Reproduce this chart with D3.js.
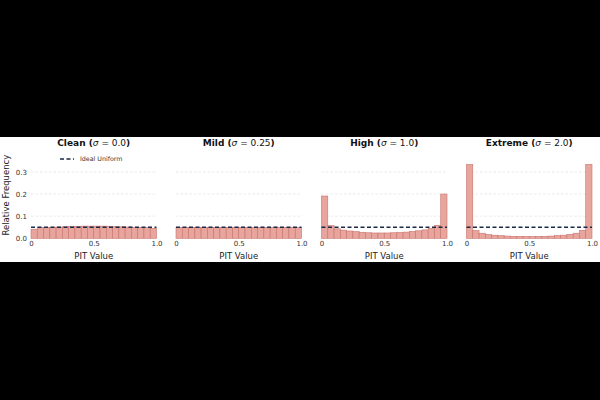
<!DOCTYPE html>
<html>
<head>
<meta charset="utf-8">
<script src="https://cdn.jsdelivr.net/npm/d3@7"></script>
<style>
  body { margin: 0; background: #000; }
  svg { display: block; font-family: "DejaVu Sans", sans-serif; }
  .grid line { stroke: #dcdcdc; stroke-dasharray: 2.5,2; stroke-width: 0.6; }
  .tick text { fill: #333; }
</style>
</head>
<body>
<svg id="chart" width="600" height="400"></svg>
<script>
// panel titles
const panelNames = ["Clean", "Mild", "High", "Extreme"];
const sigmas = ["0.0", "0.25", "1.0", "2.0"];

// PIT histograms, 20 bins each (relative frequency)
const cleanFreq = [0.041, 0.048, 0.049, 0.050, 0.051, 0.052, 0.053, 0.054, 0.055, 0.055,
                   0.055, 0.055, 0.054, 0.053, 0.052, 0.051, 0.050, 0.049, 0.048, 0.045];
const mildFreq = [0.049, 0.049, 0.050, 0.050, 0.049, 0.050, 0.050, 0.049, 0.050, 0.050,
                  0.050, 0.049, 0.050, 0.050, 0.049, 0.050, 0.050, 0.049, 0.050, 0.049];
const highFreq = [0.191, 0.057, 0.043, 0.037, 0.033, 0.030, 0.027, 0.025, 0.024, 0.024,
                  0.024, 0.025, 0.026, 0.028, 0.031, 0.034, 0.038, 0.044, 0.058, 0.200];
const extremeFreq = [0.333, 0.035, 0.023, 0.017, 0.014, 0.012, 0.010, 0.009, 0.009, 0.008,
                     0.008, 0.009, 0.009, 0.010, 0.012, 0.014, 0.018, 0.023, 0.036, 0.334];
const allFreq = [cleanFreq, mildFreq, highFreq, extremeFreq];

const uniformLevel = 0.05;
const yTicks = [0.0, 0.1, 0.2, 0.3];
const xTicks = [0, 0.5, 1.0];
const xTickLabels = ["0", "0.5", "1.0"];

const drawPanels = ()=>{
    let svg = d3.select("#chart");

    // white figure strip
    svg.append("rect")
    .attr("x", 0).attr("y", 137)
    .attr("width", 600).attr("height", 125)
    .attr("fill", "#fff");

    let panelLeft = [31, 176, 321.5, 466.5];
    let panelWidth = 125.5;
    let top = 152, bottom = 238.3;

    let yScale = d3.scaleLinear().range([bottom - top, 0]).domain([0, 0.39]);

    allFreq.forEach((freq, p)=>{
        let g = svg.append("g").attr("transform", "translate(" + panelLeft[p] + "," + top + ")");
        let xScale = d3.scaleLinear().range([0, panelWidth]).domain([0, 1]);

        // grid
        g.append("g")
        .attr("class", "grid")
        .selectAll("line")
        .data(yTicks.slice(1))
        .enter().append("line")
        .attr("x1", 0).attr("x2", panelWidth)
        .attr("y1", (d)=>yScale(d)).attr("y2", (d)=>yScale(d));

        let bins = freq.map((v, i)=>({x0: i / freq.length, x1: (i + 1) / freq.length, v: v}));

        g.selectAll("rect.bar")
        .data(bins)
        .enter().append("rect")
        .attr("class", "bar")
        .attr("x", (d)=>xScale(d.x0))
        .attr("width", (d)=>xScale(d.x1) - xScale(d.x0))
        .attr("y", (d)=>yScale(d.v))
        .attr("height", (d)=>yScale(0) - yScale(d.v))
        .attr("fill", "#e8a59d")
        .attr("stroke", "#c9736a")
        .attr("stroke-width", 0.6);

        // ideal uniform line
        g.append("line")
        .attr("x1", 0).attr("x2", panelWidth)
        .attr("y1", yScale(uniformLevel)).attr("y2", yScale(uniformLevel))
        .attr("stroke", "#1b2a47")
        .attr("stroke-width", 1.3)
        .attr("stroke-dasharray", "4,2.5");

        // x axis
        let xAxis = d3.axisBottom().scale(xScale)
        .tickValues(xTicks)
        .tickFormat((d, i)=>xTickLabels[i])
        .tickSize(0).tickPadding(3);

        let xg = g.append("g")
        .attr("transform", "translate(0," + yScale(0) + ")")
        .call(xAxis);
        xg.select(".domain").remove();
        xg.selectAll("text").attr("font-size", "7px").attr("font-family", "DejaVu Sans");

        g.append("text")
        .attr("x", panelWidth / 2)
        .attr("y", yScale(0) + 21)
        .attr("text-anchor", "middle")
        .attr("font-size", "8.5px")
        .attr("fill", "#222")
        .text("PIT Value");

        // title
        let title = g.append("text")
        .attr("x", panelWidth / 2)
        .attr("y", -6)
        .attr("text-anchor", "middle")
        .attr("font-size", "9px")
        .attr("font-weight", "bold")
        .attr("fill", "#111");
        title.append("tspan").text(panelNames[p] + " (");
        title.append("tspan").attr("font-style", "italic").attr("font-weight", "normal").text("σ");
        title.append("tspan").attr("font-weight", "normal").text(" = " + sigmas[p]);
        title.append("tspan").text(")");

        if (p == 0) {
            let yAxis = d3.axisLeft().scale(yScale)
            .tickValues(yTicks)
            .tickFormat(d3.format(".1f"))
            .tickSize(0).tickPadding(4);
            let yg = g.append("g").call(yAxis);
            yg.select(".domain").remove();
            yg.selectAll("text").attr("font-size", "7px").attr("font-family", "DejaVu Sans");

            g.append("text")
            .attr("transform", "translate(" + (-22) + "," + ((bottom - top) / 2) + ") rotate(-90)")
            .attr("text-anchor", "middle")
            .attr("font-size", "8.5px")
            .attr("fill", "#222")
            .text("Relative Frequency");

            // legend
            g.append("line")
            .attr("x1", 29).attr("x2", 43)
            .attr("y1", 7).attr("y2", 7)
            .attr("stroke", "#1b2a47")
            .attr("stroke-width", 1.3)
            .attr("stroke-dasharray", "4,2.5");
            g.append("text")
            .attr("x", 49).attr("y", 9.3)
            .attr("font-size", "6.3px")
            .attr("fill", "#333")
            .text("Ideal Uniform");
        }
    });
}

window.onload = function(){
    drawPanels();
}
</script>
</body>
</html>
